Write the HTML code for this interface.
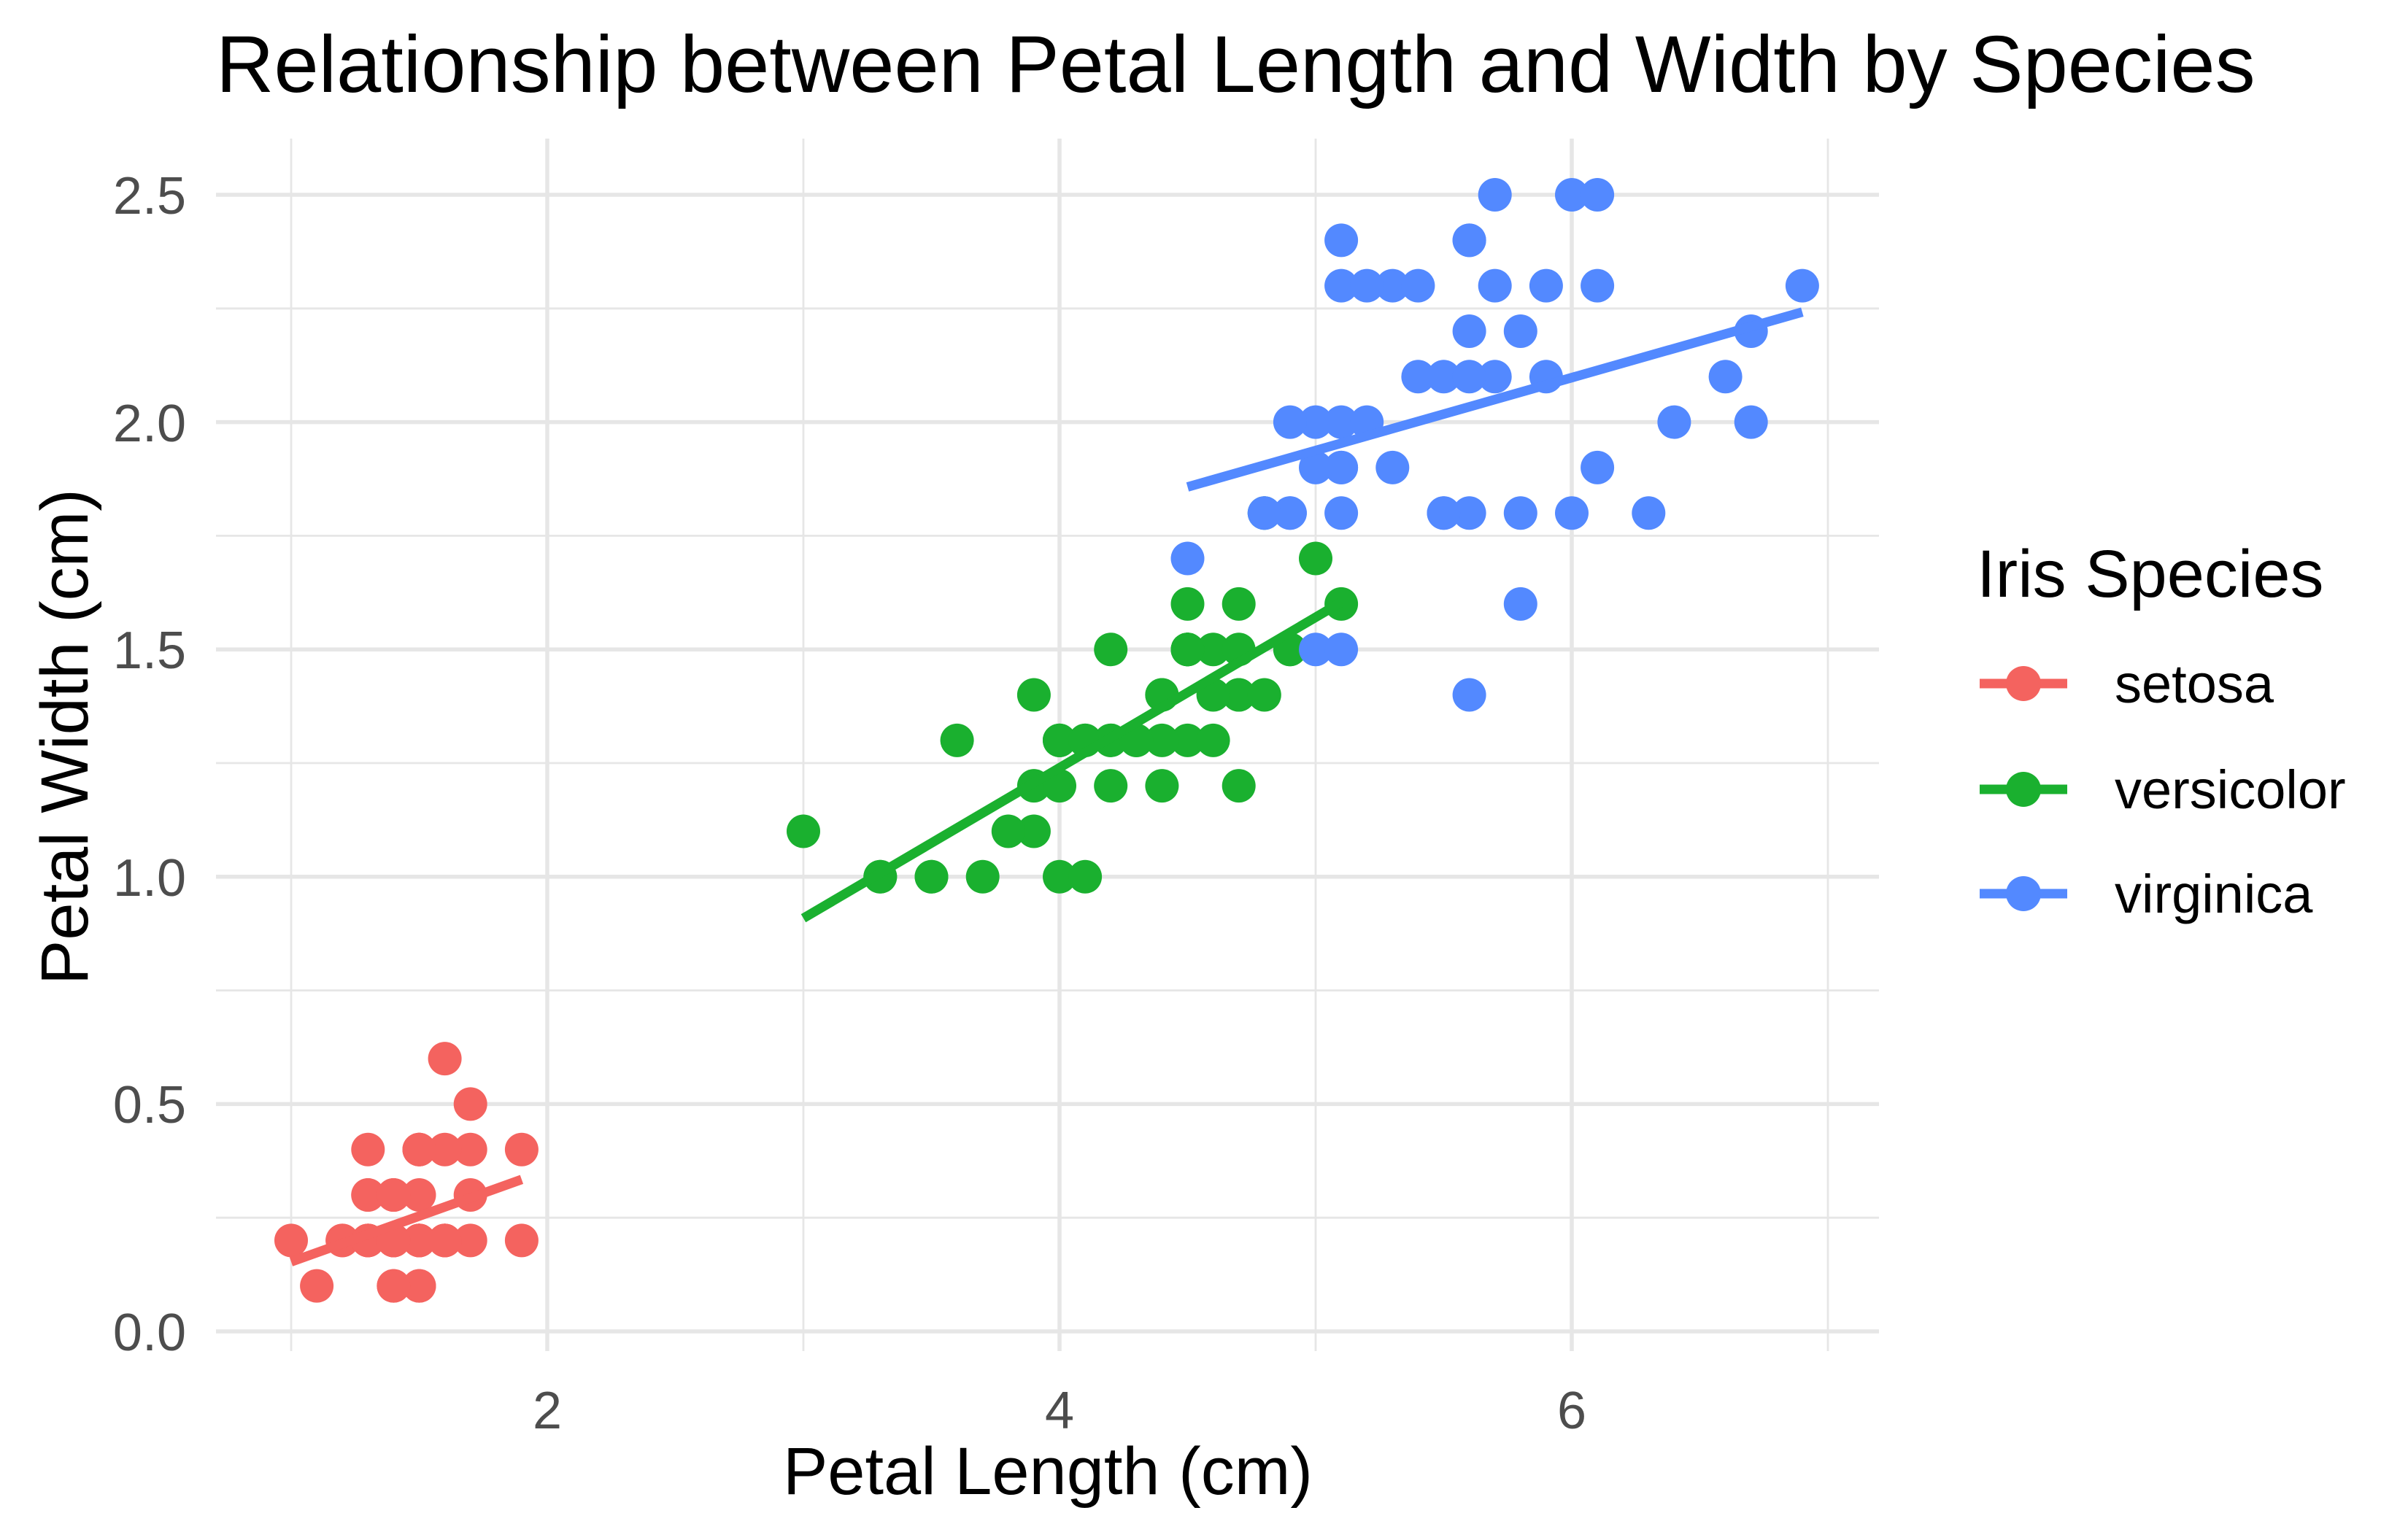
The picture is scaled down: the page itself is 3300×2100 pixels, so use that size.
<!DOCTYPE html>
<html><head><meta charset="utf-8"><style>
html,body{margin:0;padding:0;background:#fff;}
svg{display:block;font-family:"Liberation Sans",Arial,sans-serif;}
</style></head><body>
<svg id="s" width="3300" height="2100" xmlns="http://www.w3.org/2000/svg">
<rect width="3300" height="2100" fill="#fff"/>
<g id="grid"></g>
<g id="pts"></g>
<text x="296" y="126" font-size="110" fill="#000">Relationship between Petal Length and Width by Species</text>
<text x="1436" y="2048" font-size="92" text-anchor="middle" fill="#000">Petal Length (cm)</text>
<text transform="translate(120,1010) rotate(-90)" font-size="92" text-anchor="middle" fill="#000">Petal Width (cm)</text>
<g font-size="72" fill="#4d4d4d" text-anchor="end">
<text x="255" y="1851">0.0</text><text x="255" y="1539">0.5</text><text x="255" y="1228">1.0</text>
<text x="255" y="916">1.5</text><text x="255" y="605">2.0</text><text x="255" y="293">2.5</text>
</g>
<g font-size="72" fill="#4d4d4d" text-anchor="middle">
<text x="750" y="1958">2</text><text x="1452" y="1958">4</text><text x="2154" y="1958">6</text>
</g>
<text x="2709" y="818" font-size="92" fill="#000">Iris Species</text>
<g id="leg"></g>
</svg>
<script>
var X=function(v){return 399+(v-1)*351;},Y=function(v){return 1825-v*623.2;};
var ns="http://www.w3.org/2000/svg";
function el(p,t,a){var e=document.createElementNS(ns,t);for(var k in a)e.setAttribute(k,a[k]);p.appendChild(e);return e;}
var g=document.getElementById('grid');
for(var v=0;v<=2.6;v+=0.25){var maj=Math.abs(v*2-Math.round(v*2))<1e-6;el(g,'line',{x1:296,x2:2575,y1:Y(v),y2:Y(v),stroke:'#e6e6e6','stroke-width':maj?5.5:2.8});}
for(var x=1;x<=7;x++){el(g,'line',{x1:X(x),x2:X(x),y1:190,y2:1852,stroke:'#e6e6e6','stroke-width':(x%2==0)?5.5:2.8});}
var C=['#F4635F','#1AB02F','#5389FF'];
var PL=[[1.4,1.4,1.3,1.5,1.4,1.7,1.4,1.5,1.4,1.5,1.5,1.6,1.4,1.1,1.2,1.5,1.3,1.4,1.7,1.5,1.7,1.5,1.0,1.7,1.9,1.6,1.6,1.5,1.4,1.6,1.6,1.5,1.5,1.4,1.5,1.2,1.3,1.4,1.3,1.5,1.3,1.3,1.3,1.6,1.9,1.4,1.6,1.4,1.5,1.4],
[4.7,4.5,4.9,4.0,4.6,4.5,4.7,3.3,4.6,3.9,3.5,4.2,4.0,4.7,3.6,4.4,4.5,4.1,4.5,3.9,4.8,4.0,4.9,4.7,4.3,4.4,4.8,5.0,4.5,3.5,3.8,3.7,3.9,5.1,4.5,4.5,4.7,4.4,4.1,4.0,4.4,4.6,4.0,3.3,4.2,4.2,4.2,4.3,3.0,4.1],
[6.0,5.1,5.9,5.6,5.8,6.6,4.5,6.3,5.8,6.1,5.1,5.3,5.5,5.0,5.1,5.3,5.5,6.7,6.9,5.0,5.7,4.9,6.7,4.9,5.7,6.0,4.8,4.9,5.6,5.8,6.1,6.4,5.6,5.1,5.6,6.1,5.6,5.5,4.8,5.4,5.6,5.1,5.1,5.9,5.7,5.2,5.0,5.2,5.4,5.1]];
var PW=[[.2,.2,.2,.2,.2,.4,.3,.2,.2,.1,.2,.2,.1,.1,.2,.4,.4,.3,.3,.3,.2,.4,.2,.5,.2,.2,.4,.2,.2,.2,.2,.4,.1,.2,.2,.2,.2,.1,.2,.2,.3,.3,.2,.6,.4,.3,.2,.2,.2,.2],
[1.4,1.5,1.5,1.3,1.5,1.3,1.6,1.0,1.3,1.4,1.0,1.5,1.0,1.4,1.3,1.4,1.5,1.0,1.5,1.1,1.8,1.3,1.5,1.2,1.3,1.4,1.4,1.7,1.5,1.0,1.1,1.0,1.2,1.6,1.5,1.6,1.5,1.3,1.3,1.3,1.2,1.4,1.2,1.0,1.3,1.2,1.3,1.3,1.1,1.3],
[2.5,1.9,2.1,1.8,2.2,2.1,1.7,1.8,1.8,2.5,2.0,1.9,2.1,2.0,2.4,2.3,1.8,2.2,2.3,1.5,2.3,2.0,2.0,1.8,2.1,1.8,1.8,1.8,2.1,1.6,1.9,2.0,2.2,1.5,1.4,2.3,2.4,1.8,1.8,2.1,2.4,2.3,1.9,2.3,2.5,2.3,1.9,2.0,2.3,1.8]];
var FIT=[[-0.0482,0.2012,1.0,1.9],[-0.0843,0.3310,3.0,5.1],[1.1360,0.1603,4.5,6.9]];
var p=document.getElementById('pts');
for(var s=0;s<3;s++){
 for(var i=0;i<50;i++)el(p,'circle',{cx:X(PL[s][i]),cy:Y(PW[s][i]),r:23,fill:C[s]});
 var f=FIT[s];
 el(p,'line',{x1:X(f[2]),y1:Y(f[0]+f[1]*f[2]),x2:X(f[3]),y2:Y(f[0]+f[1]*f[3]),stroke:C[s],'stroke-width':13});
}
var l=document.getElementById('leg'),ly=[937,1082,1225],nm=['setosa','versicolor','virginica'];
for(var s=0;s<3;s++){
 el(l,'line',{x1:2713,x2:2833,y1:ly[s],y2:ly[s],stroke:C[s],'stroke-width':13});
 el(l,'circle',{cx:2773,cy:ly[s],r:24,fill:C[s]});
 var t=el(l,'text',{x:2898,y:ly[s]+26,'font-size':74,fill:'#000'});t.textContent=nm[s];
}
</script>
</body></html>
